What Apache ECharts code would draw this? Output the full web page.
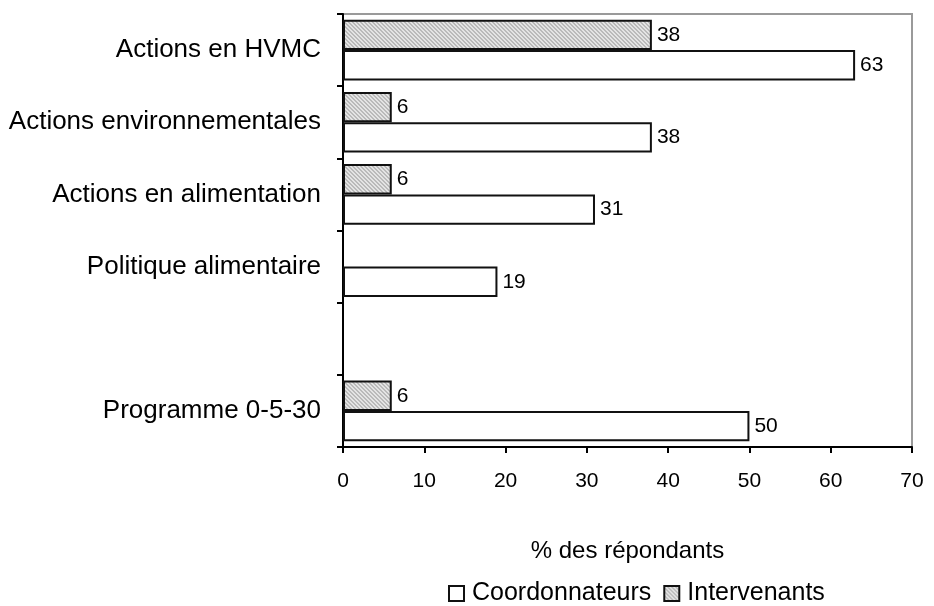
<!DOCTYPE html>
<html>
<head>
<meta charset="utf-8">
<script src="https://cdn.jsdelivr.net/npm/echarts@6/dist/echarts.min.js"></script>
<style>
  html, body { margin: 0; padding: 0; background: #fff; }
  #chart { width: 934px; height: 606px; }
</style>
</head>
<body>
<div id="chart"></div>
<script>
// Categories, top to bottom (the blank entry leaves an empty row)
const categories = ['Actions en HVMC', 'Actions environnementales', 'Actions en alimentation', 'Politique alimentaire', '', 'Programme 0-5-30'];
// % of respondents per group
const intervenants = [38, 6, 6, null, null, 6];
const coordonnateurs = [63, 38, 31, 19, null, 50];
const xTicks = [0, 10, 20, 30, 40, 50, 60, 70];

const FONT = '"Liberation Sans", Arial, sans-serif';

// Grey diagonal hatch used for the "Intervenants" bars
function makeHatch() {
  const c = document.createElement('canvas');
  const n = 4;
  c.width = n; c.height = n;
  const g = c.getContext('2d');
  for (let y = 0; y < n; y++) {
    for (let x = 0; x < n; x++) {
      const k = ((x - y) % n + n) % n;
      g.fillStyle = k < 2 ? '#e4e4e4' : '#bababa';
      g.fillRect(x, y, 1, 1);
    }
  }
  return c;
}
const hatch = { image: makeHatch(), repeat: 'repeat' };

const chart = echarts.init(document.getElementById('chart'), null, { renderer: 'canvas' });

const labelStyle = {
  show: true,
  position: 'right',
  distance: 5,
  color: '#000',
  fontFamily: FONT,
  fontSize: 21
};

chart.setOption({
  animation: false,
  backgroundColor: '#fff',
  grid: {
    left: 343, right: 22, top: 14, bottom: 159,
    show: true, borderColor: '#9a9a9a', borderWidth: 2
  },
  legend: {
    data: ['Coordonnateurs', 'Intervenants'],
    left: 443, top: 576,
    itemWidth: 15, itemHeight: 15, itemGap: 12,
    icon: 'rect',
    textStyle: { color: '#000', fontFamily: FONT, fontSize: 25, padding: [0, 0, 0, 3] }
  },
  xAxis: {
    type: 'value',
    min: 0, max: 70, interval: 10,
    name: '% des répondants',
    nameLocation: 'middle',
    nameGap: 92,
    nameTextStyle: { color: '#000', fontFamily: FONT, fontSize: 24 },
    axisLine: { show: true, lineStyle: { color: '#000', width: 2 } },
    axisTick: { show: true, length: 6, lineStyle: { color: '#000', width: 2 } },
    axisLabel: {
      color: '#000', fontFamily: FONT, fontSize: 21, margin: 24,
      formatter: v => (xTicks.includes(v) ? String(v) : '')
    },
    splitLine: { show: false }
  },
  yAxis: {
    type: 'category',
    data: categories,
    inverse: true,
    axisLine: { show: true, lineStyle: { color: '#000', width: 2 } },
    axisTick: { show: true, length: 6, alignWithLabel: false, lineStyle: { color: '#000', width: 2 } },
    axisLabel: { color: '#000', fontFamily: FONT, fontSize: 26, margin: 22 },
    splitLine: { show: false }
  },
  series: [
    {
      name: 'Intervenants',
      type: 'bar',
      data: intervenants,
      barGap: '0%',
      barCategoryGap: '16%',
      itemStyle: { color: hatch, borderColor: '#111', borderWidth: 2 },
      label: labelStyle
    },
    {
      name: 'Coordonnateurs',
      type: 'bar',
      data: coordonnateurs,
      barGap: '0%',
      barCategoryGap: '16%',
      itemStyle: { color: '#fff', borderColor: '#111', borderWidth: 2 },
      label: labelStyle
    }
  ]
});
</script>
</body>
</html>
